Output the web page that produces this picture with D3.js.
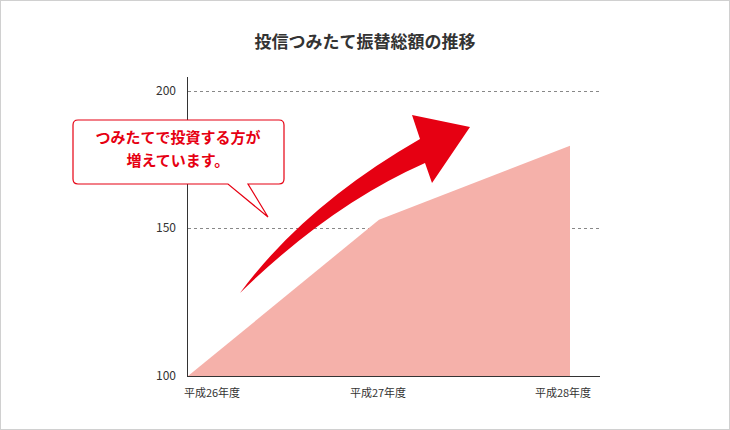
<!DOCTYPE html>
<html><head><meta charset="utf-8">
<script src="https://cdn.jsdelivr.net/npm/d3@7/dist/d3.min.js"></script>
<style>body{margin:0;background:#fff}text{font-family:"Noto Sans CJK JP","Noto Sans",sans-serif}</style>
</head><body>
<svg id="chart" width="730" height="430"></svg>
<script>
// data
const years = ["平成26年度", "平成27年度", "平成28年度"];
const values = [100, 153, 180];
const yTicks = [100, 150, 200];
const title = "投信つみたて振替総額の推移";
const note = ["つみたてで投資する方が", "増えています。"];

const svg = d3.select('#chart');
svg.append('rect').attr('x', 0.5).attr('y', 0.5).attr('width', 729).attr('height', 429)
  .attr('fill', '#fff').attr('stroke', '#d0d0d0');

svg.append('text').attr('x', 365).attr('y', 48).attr('text-anchor', 'middle')
  .attr('font-size', 17).attr('font-weight', 'bold').attr('fill', '#333').text(title);

const x = d3.scalePoint().domain(years).range([188, 570]);
const y = d3.scaleLinear().domain([100, 150, 200]).range([376, 228, 91]);

// grid
svg.selectAll('.grid').data(yTicks.slice(1)).enter().append('line')
  .attr('x1', 188).attr('x2', 600).attr('y1', d => y(d) + 0.5).attr('y2', d => y(d) + 0.5)
  .attr('stroke', '#888').attr('stroke-dasharray', '3,3');

// area
const area = d3.area().x(d => x(d.k)).y0(y(100)).y1(d => y(d.v));
svg.append('path').datum(years.map((k, i) => ({k, v: values[i]})))
  .attr('d', area).attr('fill', '#f5b1aa');

// axes
svg.append('line').attr('x1', 187.5).attr('x2', 187.5).attr('y1', 77).attr('y2', 376).attr('stroke', '#333');
svg.append('line').attr('x1', 187).attr('x2', 600).attr('y1', 376.5).attr('y2', 376.5).attr('stroke', '#333');
svg.selectAll('.yt').data(yTicks).enter().append('text')
  .attr('x', 176).attr('y', d => y(d) + 4).attr('text-anchor', 'end')
  .attr('font-size', 12).attr('fill', '#333').text(d => d);
const labelX = [212, 378, 563];
svg.selectAll('.xt').data(years).enter().append('text')
  .attr('x', (d, i) => labelX[i]).attr('y', 397).attr('text-anchor', 'middle')
  .attr('font-size', 11).attr('fill', '#333').text(d => d);

// arrow
svg.append('path')
  .attr('d', 'M240,293 Q305,205 420,139 L412,115 L470,127 L432,183 L425,163 Q330,205 240,293 Z')
  .attr('fill', '#e60012');

// callout
svg.append('path')
  .attr('d', 'M78,120 H279 Q284,120 284,125 V179 Q284,184 279,184 H248 L268,217 L228,184 H78 Q73,184 73,179 V125 Q73,120 78,120 Z')
  .attr('fill', '#fff').attr('stroke', '#e60012').attr('stroke-width', 1.2);
svg.selectAll('.note').data(note).enter().append('text')
  .attr('x', 178).attr('y', (d, i) => 143 + i * 23).attr('text-anchor', 'middle')
  .attr('font-size', 15).attr('font-weight', 'bold').attr('fill', '#e60012').text(d => d);
</script>
</body></html>
